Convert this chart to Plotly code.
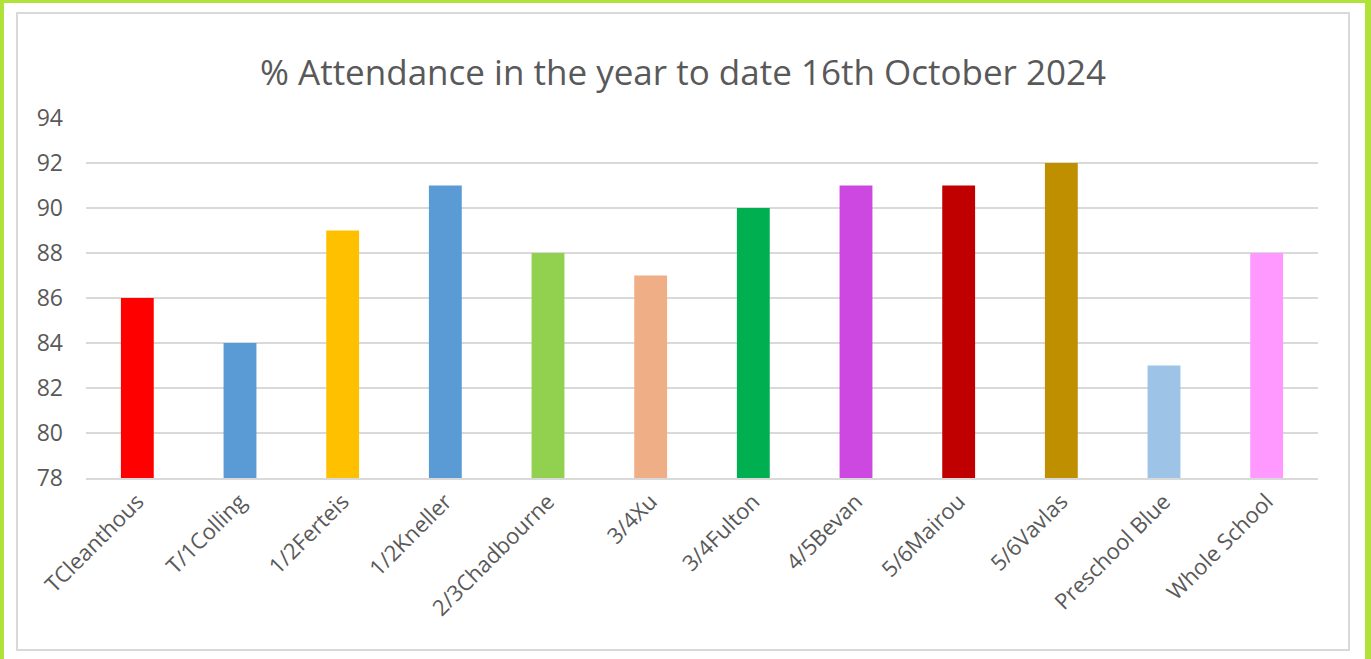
import plotly.graph_objects as go

categories = ["TCleanthous", "T/1Colling", "1/2Ferteis", "1/2Kneller", "2/3Chadbourne", "3/4Xu",
              "3/4Fulton", "4/5Bevan", "5/6Mairou", "5/6Vavlas", "Preschool Blue", "Whole School"]
values = [86, 84, 89, 91, 88, 87, 90, 91, 91, 92, 83, 88]
colors = ["#FF0000", "#5B9BD5", "#FFC000", "#5B9BD5", "#92D050", "#F0AE86",
          "#00B050", "#CC48E0", "#C00000", "#BF8F00", "#9DC3E6", "#FF99FF"]
y_ticks = [78, 80, 82, 84, 86, 88, 90, 92, 94]

W, H = 1371, 659
L, R, T, B = 86, 53, 118, 181
PW, PH = W - L - R, H - T - B

def px(x):
    return (x - L) / PW

def py(y):
    return (H - B - y) / PH

fig = go.Figure(go.Bar(x=categories, y=values, marker=dict(color=colors, line=dict(width=0))))

font = "Open Sans, Segoe UI, sans-serif"
fig.update_layout(
    width=W, height=H,
    margin=dict(l=L, r=R, t=T, b=B, pad=0),
    paper_bgcolor="white", plot_bgcolor="white",
    bargap=0.68,
    showlegend=False,
    title=dict(text="% Attendance in the year to date 16th October 2024",
               x=683 / W, xanchor="center", y=1 - 73 / H, yanchor="middle",
               font=dict(family=font, size=35, color="#595959")),
    xaxis=dict(tickangle=-45, tickfont=dict(family=font, size=22, color="#595959"),
               showgrid=False, showline=True, linecolor="#D9D9D9", linewidth=2,
               ticks="", fixedrange=True),
    yaxis=dict(range=[78, 94], tickvals=y_ticks, tickfont=dict(family=font, size=23, color="#595959"),
               showgrid=True, gridcolor="#D9D9D9", gridwidth=2, zeroline=False,
               showline=False, ticks="", ticklabelstandoff=22, fixedrange=True),
    shapes=[
        dict(type="rect", xref="paper", yref="paper", x0=px(0), x1=px(W), y0=py(H + 5), y1=py(0),
             fillcolor="#B0E23A", line=dict(width=0), layer="below"),
        dict(type="rect", xref="paper", yref="paper", x0=px(4), x1=px(1365), y0=py(H + 5), y1=py(3),
             fillcolor="white", line=dict(width=0), layer="below"),
        dict(type="rect", xref="paper", yref="paper", x0=px(17), x1=px(1349), y0=py(650), y1=py(13),
             fillcolor="rgba(0,0,0,0)", line=dict(color="#D9D9D9", width=2), layer="below"),
    ],
)

fig.write_html("out.html", config={"displayModeBar": False},
               post_script="document.body.style.margin='0';document.body.style.overflow='hidden';")
